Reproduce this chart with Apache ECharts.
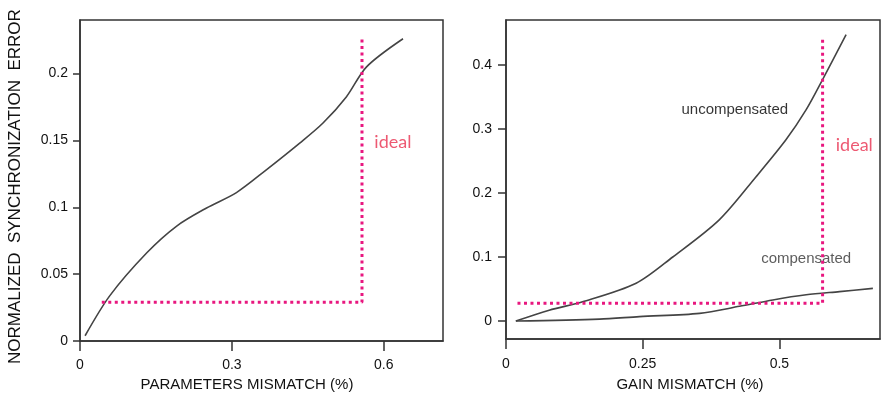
<!DOCTYPE html>
<html><head><meta charset="utf-8">
<script src="https://cdn.jsdelivr.net/npm/echarts@6/dist/echarts.min.js"></script>
<style>html,body{margin:0;padding:0;background:#fff}#c{width:882px;height:397px}</style>
</head><body><div id="c"></div>
<script>
// Left panel: parameters mismatch vs normalized error
const paramX = [0.01, 0.059, 0.132, 0.191, 0.25, 0.309, 0.368, 0.434, 0.48, 0.526, 0.566, 0.638];
const paramY = [0.004, 0.034, 0.066, 0.086, 0.0995, 0.111, 0.128, 0.148, 0.163, 0.1825, 0.205, 0.226];
const idealLeftX = [0.043, 0.557, 0.557];
const idealLeftY = [0.029, 0.029, 0.226];
// Right panel: gain mismatch
const uncompX = [0.018, 0.079, 0.14, 0.238, 0.305, 0.39, 0.457, 0.512, 0.549, 0.579, 0.622];
const uncompY = [0.0, 0.017, 0.030, 0.059, 0.100, 0.158, 0.225, 0.283, 0.33, 0.377, 0.447];
const compX = [0.018, 0.171, 0.244, 0.354, 0.427, 0.488, 0.549, 0.61, 0.671];
const compY = [0.0, 0.003, 0.007, 0.012, 0.023, 0.033, 0.041, 0.046, 0.051];
const idealRightX = [0.021, 0.579, 0.579];
const idealRightY = [0.028, 0.028, 0.444];
// tick labels
const leftXTicks = [0, 0.3, 0.6];
const leftYTicks = [0, 0.05, 0.1, 0.15, 0.2];
const rightXTicks = [0, 0.25, 0.5];
const rightYTicks = [0, 0.1, 0.2, 0.3, 0.4];
// annotations [x, y, text]
const leftNotes = [[0.618, 0.149, 'ideal']];
const rightIdealNote = [[0.637, 0.275, 'ideal']];
const uncompNote = [[0.4185, 0.33, 'uncompensated']];
const compNote = [[0.549, 0.097, 'compensated']];

const zip = (a, b) => a.map((v, i) => [v, b[i]]);
const FONT = 'Liberation Sans';
const PINK = '#e8177f';
const axisCommon = (ticks, margin, tickLen) => ({
  axisLine: { show: true, onZero: false, lineStyle: { color: '#333', width: 1.5 } },
  axisTick: { show: true, customValues: ticks, length: tickLen, inside: false, lineStyle: { color: '#333', width: 1.5 } },
  axisLabel: { customValues: ticks, margin: margin, color: '#111', fontFamily: FONT, fontSize: 14, formatter: v => String(v) },
  splitLine: { show: false }
});
const noteSeries = (xi, notes, color, family, size) => ({
  type: 'scatter', xAxisIndex: xi, yAxisIndex: xi, symbolSize: 0,
  data: notes.map(d => ({ value: [d[0], d[1]], name: d[2] })),
  label: { show: true, position: 'inside', formatter: p => p.name, color: color, fontFamily: family, fontSize: size }
});
const chart = echarts.init(document.getElementById('c'), null, { renderer: 'canvas' });
chart.setOption({
  animation: false,
  backgroundColor: '#fff',
  grid: [
    { left: 80, right: 439, top: 20, bottom: 55, show: true, borderColor: '#333', borderWidth: 1.5 },
    { left: 506, right: 2, top: 20, bottom: 58, show: true, borderColor: '#333', borderWidth: 1.5 }
  ],
  xAxis: [
    Object.assign({ type: 'value', gridIndex: 0, min: 0, max: 0.717,
      name: 'PARAMETERS MISMATCH (%)', nameLocation: 'middle', nameGap: 33,
      nameTextStyle: { fontFamily: FONT, fontSize: 15, color: '#111', padding: [0, 29, 0, 0] } },
      axisCommon(leftXTicks, 17, 10)),
    Object.assign({ type: 'value', gridIndex: 1, min: 0, max: 0.684,
      name: 'GAIN MISMATCH (%)', nameLocation: 'middle', nameGap: 38,
      nameTextStyle: { fontFamily: FONT, fontSize: 15, color: '#111', padding: [0, 6, 0, 0] } },
      axisCommon(rightXTicks, 18, 10))
  ],
  yAxis: [
    Object.assign({ type: 'value', gridIndex: 0, min: 0, max: 0.24,
      name: 'NORMALIZED  SYNCHRONIZATION  ERROR', nameLocation: 'middle', nameGap: 56, nameRotate: 90,
      nameTextStyle: { fontFamily: FONT, fontSize: 17, color: '#111', padding: [0, 12, 0, 0] } },
      axisCommon(leftYTicks, 12, 7)),
    Object.assign({ type: 'value', gridIndex: 1, min: -0.028, max: 0.47 },
      axisCommon(rightYTicks, 14, 8))
  ],
  series: [
    { type: 'line', xAxisIndex: 0, yAxisIndex: 0, data: zip(paramX, paramY), smooth: 0.3, symbol: 'none',
      lineStyle: { color: '#444', width: 1.6 } },
    { type: 'line', xAxisIndex: 0, yAxisIndex: 0, data: zip(idealLeftX, idealLeftY), symbol: 'none',
      lineStyle: { color: PINK, width: 3, type: [3, 3.5] } },
    { type: 'line', xAxisIndex: 1, yAxisIndex: 1, data: zip(uncompX, uncompY), smooth: 0.3, symbol: 'none',
      lineStyle: { color: '#444', width: 1.6 } },
    { type: 'line', xAxisIndex: 1, yAxisIndex: 1, data: zip(compX, compY), smooth: 0.3, symbol: 'none',
      lineStyle: { color: '#444', width: 1.6 } },
    { type: 'line', xAxisIndex: 1, yAxisIndex: 1, data: zip(idealRightX, idealRightY), symbol: 'none',
      lineStyle: { color: PINK, width: 3, type: [3, 3.5] } },
    noteSeries(0, leftNotes, '#e8304f', 'Lato', 18),
    noteSeries(1, rightIdealNote, '#e8304f', 'Lato', 18),
    noteSeries(1, uncompNote, '#000', FONT, 15),
    noteSeries(1, compNote, '#333', FONT, 15)
  ]
});
</script></body></html>
